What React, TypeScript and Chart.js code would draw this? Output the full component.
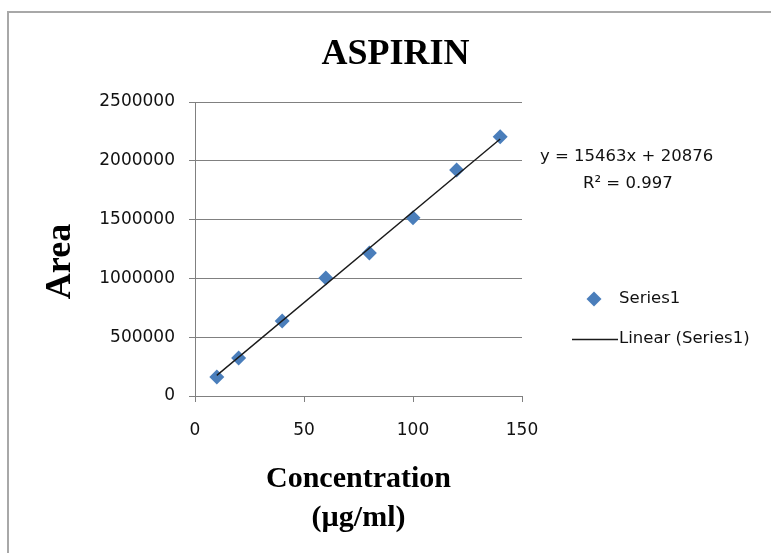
import { useEffect, useRef } from 'react';
import { Chart, registerables } from 'chart.js';

Chart.register(...registerables);

// Calibration data: concentration (µg/ml) against peak area
const concentration = [10, 20, 40, 60, 80, 100, 120, 140];
const area = [162000, 324000, 638000, 1004000, 1217000, 1515000, 1921000, 2205000];

// Axis ticks
const xTicks = [0, 50, 100, 150];
const yTicks = [0, 500000, 1000000, 1500000, 2000000, 2500000];

// Linear trendline reported for the series
const slope = 15463;
const intercept = 20876;
const rSquared = 0.997;
const trendRange = [10, 140];

const W = 771;
const H = 553;
const markerBlue = '#4a7ebb';
const gridGray = '#808080';
const textColor = '#111';
const sansFont = '"DejaVu Sans", sans-serif';
const serifFont = '"Liberation Serif", "Times New Roman", serif';

const overlayPlugin = {
  id: 'overlayText',
  afterDraw(chart: any) {
    const ctx = chart.ctx as CanvasRenderingContext2D;
    ctx.save();

    // Chart title
    ctx.fillStyle = '#000';
    ctx.font = `bold 36px ${serifFont}`;
    ctx.textAlign = 'center';
    ctx.textBaseline = 'alphabetic';
    ctx.fillText('ASPIRIN', 395.5, 64);

    // Vertical axis title
    ctx.save();
    ctx.translate(70, 261.5);
    ctx.rotate(-Math.PI / 2);
    ctx.fillText('Area', 0, 0);
    ctx.restore();

    // Trendline equation
    ctx.fillStyle = textColor;
    ctx.font = `16.5px ${sansFont}`;
    ctx.textAlign = 'left';
    ctx.textBaseline = 'middle';
    ctx.fillText(`y = ${slope}x + ${intercept}`, 540, 157);
    ctx.fillText(`R² = ${rSquared}`, 583, 184);

    // Legend
    const scatter = chart.data.datasets[1];
    const trend = chart.data.datasets[0];
    ctx.fillStyle = markerBlue;
    ctx.beginPath();
    ctx.moveTo(594, 291.5);
    ctx.lineTo(601.5, 299);
    ctx.lineTo(594, 306.5);
    ctx.lineTo(586.5, 299);
    ctx.closePath();
    ctx.fill();
    ctx.fillStyle = textColor;
    ctx.fillText(scatter.label, 619, 299);

    ctx.strokeStyle = '#1a1a1a';
    ctx.lineWidth = 1.4;
    ctx.beginPath();
    ctx.moveTo(572, 339.5);
    ctx.lineTo(618, 339.5);
    ctx.stroke();
    ctx.fillText(trend.label, 619, 339);

    ctx.restore();
  },
};

export default function App() {
  const canvasRef = useRef<HTMLCanvasElement | null>(null);

  useEffect(() => {
    if (!canvasRef.current) return;
    const points = concentration.map((x, i) => ({ x, y: area[i] }));
    const trendPoints = trendRange.map((x) => ({ x, y: slope * x + intercept }));

    const chart = new Chart(canvasRef.current, {
      type: 'scatter',
      data: {
        datasets: [
          {
            type: 'line',
            label: 'Linear (Series1)',
            data: trendPoints,
            borderColor: '#1a1a1a',
            borderWidth: 1.4,
            pointRadius: 0,
            fill: false,
            order: 0,
          },
          {
            label: 'Series1',
            data: points,
            pointStyle: 'rectRot',
            pointRadius: 7.5,
            backgroundColor: markerBlue,
            borderColor: markerBlue,
            borderWidth: 0,
            order: 1,
          },
        ],
      },
      options: {
        responsive: false,
        animation: false,
        devicePixelRatio: 1,
        layout: { padding: { left: 0, top: 102, right: 249, bottom: 0 }, autoPadding: false },
        plugins: {
          legend: { display: false },
          title: { display: false },
          tooltip: { enabled: false },
        },
        scales: {
          x: {
            type: 'linear',
            min: xTicks[0],
            max: xTicks[xTicks.length - 1],
            afterBuildTicks: (s: any) => {
              s.ticks = xTicks.map((value) => ({ value }));
            },
            afterFit: (s: any) => {
              s.height = 157;
              s.paddingLeft = 0;
              s.paddingRight = 0;
            },
            grid: { drawOnChartArea: false, drawTicks: true, tickLength: 6, color: gridGray, lineWidth: 1 },
            border: { display: true, color: gridGray, width: 1 },
            ticks: {
              padding: 18,
              color: textColor,
              font: { family: sansFont, size: 17 },
              maxRotation: 0,
            },
            title: {
              display: true,
              text: ['Concentration', '(µg/ml)'],
              color: '#000',
              font: { family: serifFont, size: 30, weight: 'bold', lineHeight: 1.3 },
              padding: { top: 0, bottom: 15 },
            },
          },
          y: {
            type: 'linear',
            min: yTicks[0],
            max: yTicks[yTicks.length - 1],
            afterBuildTicks: (s: any) => {
              s.ticks = yTicks.map((value) => ({ value }));
            },
            afterFit: (s: any) => {
              s.width = 195;
              s.paddingTop = 0;
              s.paddingBottom = 0;
            },
            grid: { drawTicks: true, tickLength: 6, color: gridGray, lineWidth: 1 },
            border: { display: true, color: gridGray, width: 1 },
            ticks: {
              padding: 14,
              color: textColor,
              font: { family: sansFont, size: 17 },
              callback: (v: any) => String(v),
            },
            title: { display: false },
          },
        },
      },
      plugins: [overlayPlugin],
    } as any);

    return () => chart.destroy();
  }, []);

  return (
    <div
      style={{
        position: 'absolute',
        left: 0,
        top: 0,
        width: W,
        height: H,
        overflow: 'hidden',
        background: '#fff',
      }}
    >
      <div
        style={{
          position: 'absolute',
          left: 7,
          top: 11,
          width: W + 40,
          height: H + 40,
          borderLeft: '2px solid #a8a8a8',
          borderTop: '2px solid #a8a8a8',
        }}
      />
      <canvas
        ref={canvasRef}
        width={W}
        height={H}
        style={{ position: 'absolute', left: 0, top: 0, width: W, height: H }}
      />
    </div>
  );
}
